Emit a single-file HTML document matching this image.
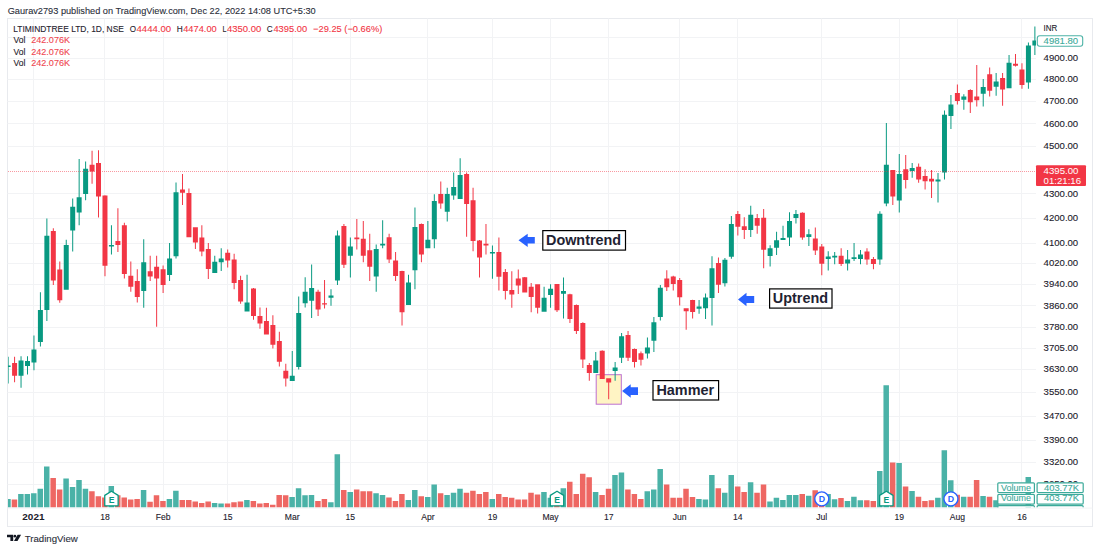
<!DOCTYPE html>
<html><head><meta charset="utf-8"><title>LTIMINDTREE chart</title>
<style>html,body{margin:0;padding:0;background:#fff;}body{width:1100px;height:550px;overflow:hidden;}svg{display:block;}</style>
</head><body>
<svg width="1100" height="550" viewBox="0 0 1100 550" font-family="'Liberation Sans', Arial, sans-serif">
<rect x="0" y="0" width="1100" height="550" fill="#ffffff"/>
<text x="7.70" y="14.00" font-size="9.5" fill="#2a2e39" stroke="#2a2e39" stroke-width="0.1" textLength="308.00" lengthAdjust="spacingAndGlyphs">Gaurav2793 published on TradingView.com, Dec 22, 2022 14:08 UTC+5:30</text>
<rect x="7.5" y="18.5" width="1085.0" height="508.0" fill="#ffffff" stroke="#E8EAEE" stroke-width="1"/>
<defs><clipPath id="pane"><rect x="8.0" y="19.0" width="1028.0" height="488.6"/></clipPath></defs>
<path d="M7.5 37.5H1036.0 M7.5 58.5H1036.0 M7.5 79.5H1036.0 M7.5 101.5H1036.0 M7.5 123.5H1036.0 M7.5 146.5H1036.0 M7.5 193.5H1036.0 M7.5 218.5H1036.0 M7.5 243.5H1036.0 M7.5 263.5H1036.0 M7.5 284.5H1036.0 M7.5 305.5H1036.0 M7.5 327.5H1036.0 M7.5 348.5H1036.0 M7.5 369.5H1036.0 M7.5 392.5H1036.0 M7.5 416.5H1036.0 M7.5 440.5H1036.0 M7.5 462.5H1036.0 M7.5 484.5H1036.0 M33.5 18.5V507.3 M104.5 18.5V507.3 M163.5 18.5V507.3 M227.5 18.5V507.3 M292.5 18.5V507.3 M350.5 18.5V507.3 M427.5 18.5V507.3 M492.5 18.5V507.3 M550.5 18.5V507.3 M608.5 18.5V507.3 M679.5 18.5V507.3 M737.5 18.5V507.3 M821.5 18.5V507.3 M899.5 18.5V507.3 M957.5 18.5V507.3 M1021.5 18.5V507.3" stroke="#F2F3F5" stroke-width="1" fill="none"/>
<path d="M7.5 508.1H1092.5" stroke="#F2F3F5" stroke-width="1"/>
<g clip-path="url(#pane)">
<path d="M5.22 498.90h5.5V507.6h-5.5ZM18.14 494.00h5.5V507.6h-5.5ZM24.59 494.00h5.5V507.6h-5.5ZM31.05 493.30h5.5V507.6h-5.5ZM37.51 488.70h5.5V507.6h-5.5ZM43.97 466.50h5.5V507.6h-5.5ZM63.34 478.50h5.5V507.6h-5.5ZM69.80 486.90h5.5V507.6h-5.5ZM76.25 480.00h5.5V507.6h-5.5ZM82.71 488.70h5.5V507.6h-5.5ZM108.54 486.10h5.5V507.6h-5.5ZM140.83 490.00h5.5V507.6h-5.5ZM166.66 499.10h5.5V507.6h-5.5ZM173.12 490.70h5.5V507.6h-5.5ZM211.86 502.90h5.5V507.6h-5.5ZM218.32 503.40h5.5V507.6h-5.5ZM244.15 500.10h5.5V507.6h-5.5ZM289.35 497.10h5.5V507.6h-5.5ZM295.81 488.20h5.5V507.6h-5.5ZM302.27 495.30h5.5V507.6h-5.5ZM308.73 495.00h5.5V507.6h-5.5ZM328.10 502.20h5.5V507.6h-5.5ZM334.56 454.30h5.5V507.6h-5.5ZM347.47 492.00h5.5V507.6h-5.5ZM373.30 493.30h5.5V507.6h-5.5ZM379.76 495.00h5.5V507.6h-5.5ZM405.59 500.10h5.5V507.6h-5.5ZM412.05 490.00h5.5V507.6h-5.5ZM424.96 497.10h5.5V507.6h-5.5ZM431.42 484.40h5.5V507.6h-5.5ZM444.34 495.00h5.5V507.6h-5.5ZM450.79 492.80h5.5V507.6h-5.5ZM457.25 488.70h5.5V507.6h-5.5ZM489.54 498.90h5.5V507.6h-5.5ZM541.20 492.00h5.5V507.6h-5.5ZM547.66 497.80h5.5V507.6h-5.5ZM560.57 488.20h5.5V507.6h-5.5ZM592.86 492.00h5.5V507.6h-5.5ZM612.23 474.90h5.5V507.6h-5.5ZM618.69 472.40h5.5V507.6h-5.5ZM644.52 491.20h5.5V507.6h-5.5ZM650.98 489.50h5.5V507.6h-5.5ZM657.44 469.10h5.5V507.6h-5.5ZM696.18 498.90h5.5V507.6h-5.5ZM702.64 499.60h5.5V507.6h-5.5ZM709.10 474.90h5.5V507.6h-5.5ZM722.01 492.80h5.5V507.6h-5.5ZM728.47 474.90h5.5V507.6h-5.5ZM747.84 482.30h5.5V507.6h-5.5ZM767.22 501.40h5.5V507.6h-5.5ZM773.67 497.80h5.5V507.6h-5.5ZM780.13 500.10h5.5V507.6h-5.5ZM786.59 495.00h5.5V507.6h-5.5ZM793.05 495.00h5.5V507.6h-5.5ZM805.96 495.80h5.5V507.6h-5.5ZM825.33 494.00h5.5V507.6h-5.5ZM831.79 499.30h5.5V507.6h-5.5ZM844.71 501.10h5.5V507.6h-5.5ZM851.16 496.80h5.5V507.6h-5.5ZM857.62 500.30h5.5V507.6h-5.5ZM876.99 471.10h5.5V507.6h-5.5ZM883.45 385.30h5.5V507.6h-5.5ZM896.37 462.90h5.5V507.6h-5.5ZM909.28 490.90h5.5V507.6h-5.5ZM935.11 497.80h5.5V507.6h-5.5ZM941.57 450.20h5.5V507.6h-5.5ZM948.03 480.20h5.5V507.6h-5.5ZM960.94 496.80h5.5V507.6h-5.5ZM980.32 496.00h5.5V507.6h-5.5ZM993.23 500.30h5.5V507.6h-5.5ZM1025.52 477.10h5.5V507.6h-5.5Z" fill="#4AB2A7"/>
<path d="M11.68 499.60h5.5V507.6h-5.5ZM50.42 478.00h5.5V507.6h-5.5ZM56.88 489.50h5.5V507.6h-5.5ZM89.17 491.20h5.5V507.6h-5.5ZM95.63 496.30h5.5V507.6h-5.5ZM102.08 497.60h5.5V507.6h-5.5ZM115.00 495.30h5.5V507.6h-5.5ZM121.46 497.60h5.5V507.6h-5.5ZM127.91 499.60h5.5V507.6h-5.5ZM134.37 498.90h5.5V507.6h-5.5ZM147.29 501.70h5.5V507.6h-5.5ZM153.74 495.30h5.5V507.6h-5.5ZM160.20 500.90h5.5V507.6h-5.5ZM179.57 500.10h5.5V507.6h-5.5ZM186.03 500.10h5.5V507.6h-5.5ZM192.49 501.40h5.5V507.6h-5.5ZM198.95 502.90h5.5V507.6h-5.5ZM205.41 501.40h5.5V507.6h-5.5ZM224.78 503.40h5.5V507.6h-5.5ZM231.24 502.20h5.5V507.6h-5.5ZM237.69 501.40h5.5V507.6h-5.5ZM250.61 500.90h5.5V507.6h-5.5ZM257.07 503.40h5.5V507.6h-5.5ZM263.52 502.90h5.5V507.6h-5.5ZM269.98 504.70h5.5V507.6h-5.5ZM276.44 495.00h5.5V507.6h-5.5ZM282.90 495.30h5.5V507.6h-5.5ZM315.18 500.90h5.5V507.6h-5.5ZM321.64 498.90h5.5V507.6h-5.5ZM341.01 490.00h5.5V507.6h-5.5ZM353.93 489.50h5.5V507.6h-5.5ZM360.39 491.20h5.5V507.6h-5.5ZM366.84 491.20h5.5V507.6h-5.5ZM386.22 497.60h5.5V507.6h-5.5ZM392.68 500.90h5.5V507.6h-5.5ZM399.13 494.00h5.5V507.6h-5.5ZM418.51 496.30h5.5V507.6h-5.5ZM437.88 493.30h5.5V507.6h-5.5ZM463.71 492.80h5.5V507.6h-5.5ZM470.17 490.70h5.5V507.6h-5.5ZM476.62 494.00h5.5V507.6h-5.5ZM483.08 492.00h5.5V507.6h-5.5ZM496.00 494.00h5.5V507.6h-5.5ZM502.45 497.10h5.5V507.6h-5.5ZM508.91 497.80h5.5V507.6h-5.5ZM515.37 499.60h5.5V507.6h-5.5ZM521.83 499.60h5.5V507.6h-5.5ZM528.28 492.80h5.5V507.6h-5.5ZM534.74 494.50h5.5V507.6h-5.5ZM554.11 494.00h5.5V507.6h-5.5ZM567.03 481.80h5.5V507.6h-5.5ZM573.49 494.00h5.5V507.6h-5.5ZM579.95 473.70h5.5V507.6h-5.5ZM586.40 477.20h5.5V507.6h-5.5ZM599.32 495.00h5.5V507.6h-5.5ZM605.78 488.70h5.5V507.6h-5.5ZM625.15 489.50h5.5V507.6h-5.5ZM631.61 494.00h5.5V507.6h-5.5ZM638.06 498.90h5.5V507.6h-5.5ZM663.89 484.40h5.5V507.6h-5.5ZM670.35 497.80h5.5V507.6h-5.5ZM676.81 497.80h5.5V507.6h-5.5ZM683.27 488.70h5.5V507.6h-5.5ZM689.72 497.10h5.5V507.6h-5.5ZM715.55 488.20h5.5V507.6h-5.5ZM734.93 486.40h5.5V507.6h-5.5ZM741.38 492.00h5.5V507.6h-5.5ZM754.30 492.80h5.5V507.6h-5.5ZM760.76 484.40h5.5V507.6h-5.5ZM799.50 494.00h5.5V507.6h-5.5ZM812.42 490.20h5.5V507.6h-5.5ZM818.88 492.00h5.5V507.6h-5.5ZM838.25 498.00h5.5V507.6h-5.5ZM864.08 500.30h5.5V507.6h-5.5ZM870.54 501.10h5.5V507.6h-5.5ZM889.91 462.40h5.5V507.6h-5.5ZM902.82 486.60h5.5V507.6h-5.5ZM915.74 496.80h5.5V507.6h-5.5ZM922.20 501.10h5.5V507.6h-5.5ZM928.65 500.30h5.5V507.6h-5.5ZM954.48 494.70h5.5V507.6h-5.5ZM967.40 496.80h5.5V507.6h-5.5ZM973.86 480.00h5.5V507.6h-5.5ZM986.77 496.80h5.5V507.6h-5.5Z" fill="#EE6763"/>
<rect x="596.2" y="374.7" width="25.1" height="29.5" fill="#FFF4C4" stroke="#BC6FD0" stroke-width="1"/>
<path d="M5.62 365.60h5V366.90h-5ZM7.62 356.70h1V365.60h-1ZM7.62 366.90h1V383.40h-1ZM18.54 360.50h5V375.80h-5ZM20.54 356.20h1V360.50h-1ZM20.54 375.80h1V387.80h-1ZM24.99 361.00h5V366.10h-5ZM26.99 356.20h1V361.00h-1ZM26.99 366.10h1V374.50h-1ZM31.45 349.60h5V362.60h-5ZM33.45 335.60h1V349.60h-1ZM33.45 362.60h1V370.20h-1ZM37.91 310.10h5V342.00h-5ZM39.91 292.30h1V310.10h-1ZM39.91 342.00h1V346.50h-1ZM44.37 235.70h5V310.10h-5ZM46.37 218.40h1V235.70h-1ZM46.37 310.10h1V321.10h-1ZM63.74 244.90h5V289.80h-5ZM65.74 239.80h1V244.90h-1ZM70.20 206.70h5V230.40h-5ZM72.20 198.50h1V206.70h-1ZM72.20 230.40h1V251.50h-1ZM76.65 197.30h5V212.50h-5ZM78.65 159.10h1V197.30h-1ZM78.65 212.50h1V225.30h-1ZM83.11 168.80h5V194.00h-5ZM85.11 161.40h1V168.80h-1ZM85.11 194.00h1V200.30h-1ZM108.94 244.90h5V246.40h-5ZM110.94 225.30h1V244.90h-1ZM110.94 246.40h1V254.50h-1ZM141.23 262.20h5V291.00h-5ZM143.23 239.30h1V262.20h-1ZM143.23 291.00h1V307.80h-1ZM167.06 258.40h5V274.90h-5ZM169.06 243.00h1V258.40h-1ZM169.06 274.90h1V281.10h-1ZM173.52 192.20h5V256.30h-5ZM175.52 182.50h1V192.20h-1ZM175.52 256.30h1V258.40h-1ZM212.26 261.70h5V273.00h-5ZM214.26 255.80h1V261.70h-1ZM218.72 258.40h5V262.20h-5ZM220.72 248.20h1V258.40h-1ZM220.72 262.20h1V271.00h-1ZM244.55 302.50h5V311.40h-5ZM246.55 274.80h1V302.50h-1ZM289.75 375.80h5V380.90h-5ZM291.75 350.90h1V375.80h-1ZM296.21 312.90h5V366.90h-5ZM298.21 296.40h1V312.90h-1ZM298.21 366.90h1V369.40h-1ZM302.67 291.80h5V303.30h-5ZM304.67 277.30h1V291.80h-1ZM304.67 303.30h1V307.60h-1ZM309.13 288.00h5V300.70h-5ZM311.13 264.60h1V288.00h-1ZM311.13 300.70h1V318.00h-1ZM328.50 295.60h5V297.70h-5ZM330.50 289.30h1V295.60h-1ZM330.50 297.70h1V305.80h-1ZM334.96 235.40h5V280.40h-5ZM336.96 230.40h1V235.40h-1ZM336.96 280.40h1V284.90h-1ZM347.87 246.40h5V255.80h-5ZM349.87 237.50h1V246.40h-1ZM349.87 255.80h1V277.40h-1ZM373.70 248.90h5V276.50h-5ZM375.70 244.40h1V248.90h-1ZM375.70 276.50h1V291.80h-1ZM380.16 243.80h5V245.60h-5ZM382.16 220.20h1V243.80h-1ZM382.16 245.60h1V248.20h-1ZM405.99 282.40h5V305.00h-5ZM407.99 274.80h1V282.40h-1ZM412.45 227.00h5V270.30h-5ZM414.45 207.40h1V227.00h-1ZM414.45 270.30h1V289.30h-1ZM425.36 239.80h5V248.20h-5ZM427.36 220.90h1V239.80h-1ZM431.82 201.10h5V239.30h-5ZM433.82 194.20h1V201.10h-1ZM433.82 239.30h1V248.20h-1ZM444.74 194.00h5V211.80h-5ZM446.74 187.80h1V194.00h-1ZM446.74 211.80h1V221.40h-1ZM451.19 187.10h5V195.50h-5ZM453.19 172.60h1V187.10h-1ZM453.19 195.50h1V199.80h-1ZM457.65 175.10h5V199.00h-5ZM459.65 158.30h1V175.10h-1ZM489.94 252.00h5V253.50h-5ZM491.94 245.60h1V252.00h-1ZM491.94 253.50h1V278.70h-1ZM541.60 297.70h5V311.70h-5ZM543.60 286.70h1V297.70h-1ZM548.06 288.80h5V294.90h-5ZM550.06 284.20h1V288.80h-1ZM550.06 294.90h1V307.80h-1ZM560.97 291.10h5V293.70h-5ZM562.97 277.60h1V291.10h-1ZM562.97 293.70h1V318.40h-1ZM593.26 360.40h5V373.10h-5ZM595.26 352.00h1V360.40h-1ZM612.63 367.50h5V371.00h-5ZM614.63 362.10h1V367.50h-1ZM614.63 371.00h1V380.70h-1ZM619.09 336.20h5V357.80h-5ZM621.09 333.10h1V336.20h-1ZM621.09 357.80h1V362.90h-1ZM644.92 347.60h5V353.50h-5ZM646.92 337.40h1V347.60h-1ZM646.92 353.50h1V358.60h-1ZM651.38 322.20h5V340.80h-5ZM653.38 317.10h1V322.20h-1ZM653.38 340.80h1V352.00h-1ZM657.84 287.80h5V317.10h-5ZM659.84 285.00h1V287.80h-1ZM659.84 317.10h1V320.40h-1ZM696.58 306.40h5V308.70h-5ZM698.58 300.00h1V306.40h-1ZM698.58 308.70h1V313.80h-1ZM703.04 297.50h5V308.20h-5ZM705.04 293.40h1V297.50h-1ZM705.04 308.20h1V318.90h-1ZM709.50 268.20h5V298.00h-5ZM711.50 256.20h1V268.20h-1ZM711.50 298.00h1V325.50h-1ZM722.41 259.80h5V283.20h-5ZM724.41 258.00h1V259.80h-1ZM724.41 283.20h1V286.50h-1ZM728.87 224.10h5V256.70h-5ZM730.87 216.00h1V224.10h-1ZM730.87 256.70h1V258.80h-1ZM748.24 214.70h5V230.00h-5ZM750.24 205.80h1V214.70h-1ZM750.24 230.00h1V236.90h-1ZM767.62 248.30h5V256.00h-5ZM769.62 245.30h1V248.30h-1ZM769.62 256.00h1V266.40h-1ZM774.07 240.20h5V247.80h-5ZM776.07 231.80h1V240.20h-1ZM776.07 247.80h1V254.90h-1ZM780.53 238.10h5V239.90h-5ZM782.53 225.70h1V238.10h-1ZM786.99 221.10h5V237.60h-5ZM788.99 212.20h1V221.10h-1ZM788.99 237.60h1V246.00h-1ZM793.45 214.00h5V218.00h-5ZM795.45 210.10h1V214.00h-1ZM795.45 218.00h1V223.60h-1ZM806.36 234.30h5V237.10h-5ZM808.36 229.20h1V234.30h-1ZM808.36 237.10h1V246.00h-1ZM825.73 256.60h5V259.10h-5ZM827.73 251.20h1V256.60h-1ZM827.73 259.10h1V270.60h-1ZM832.19 255.80h5V257.60h-5ZM834.19 252.00h1V255.80h-1ZM834.19 257.60h1V264.20h-1ZM845.11 259.60h5V263.40h-5ZM847.11 250.00h1V259.60h-1ZM847.11 263.40h1V270.60h-1ZM851.56 257.30h5V258.90h-5ZM853.56 243.10h1V257.30h-1ZM853.56 258.90h1V260.90h-1ZM858.02 254.50h5V258.90h-5ZM860.02 250.00h1V254.50h-1ZM860.02 258.90h1V264.20h-1ZM877.39 213.80h5V259.60h-5ZM879.39 211.30h1V213.80h-1ZM879.39 259.60h1V264.70h-1ZM883.85 164.70h5V203.60h-5ZM885.85 123.10h1V164.70h-1ZM885.85 203.60h1V206.20h-1ZM896.77 173.90h5V200.60h-5ZM898.77 154.00h1V173.90h-1ZM898.77 200.60h1V212.50h-1ZM909.68 168.00h5V171.00h-5ZM911.68 162.90h1V168.00h-1ZM911.68 171.00h1V177.70h-1ZM935.51 179.50h5V181.50h-5ZM937.51 173.10h1V179.50h-1ZM937.51 181.50h1V202.40h-1ZM941.97 114.70h5V172.60h-5ZM943.97 110.40h1V114.70h-1ZM943.97 172.60h1V179.50h-1ZM948.43 104.50h5V116.00h-5ZM950.43 95.10h1V104.50h-1ZM950.43 116.00h1V128.90h-1ZM961.34 96.40h5V99.70h-5ZM963.34 94.30h1V96.40h-1ZM963.34 99.70h1V109.80h-1ZM980.72 86.90h5V93.80h-5ZM982.72 79.00h1V86.90h-1ZM982.72 93.80h1V106.50h-1ZM993.63 81.60h5V86.70h-5ZM995.63 72.90h1V81.60h-1ZM995.63 86.70h1V95.80h-1ZM1006.55 62.80h5V88.20h-5ZM1008.55 55.10h1V62.80h-1ZM1025.92 45.50h5V82.40h-5ZM1027.92 42.40h1V45.50h-1ZM1027.92 82.40h1V88.70h-1ZM1032.38 40.40h5V45.50h-5ZM1034.38 26.40h1V40.40h-1ZM1034.38 45.50h1V55.10h-1Z" fill="#089981"/>
<path d="M12.08 363.10h5V375.80h-5ZM14.08 356.70h1V363.10h-1ZM14.08 375.80h1V382.20h-1ZM50.82 230.90h5V280.40h-5ZM52.82 228.30h1V230.90h-1ZM52.82 280.40h1V284.90h-1ZM57.28 269.40h5V300.20h-5ZM59.28 261.40h1V269.40h-1ZM59.28 300.20h1V302.80h-1ZM89.57 164.70h5V171.60h-5ZM91.57 150.70h1V164.70h-1ZM91.57 171.60h1V183.80h-1ZM96.03 162.90h5V196.50h-5ZM98.03 150.20h1V162.90h-1ZM98.03 196.50h1V217.60h-1ZM102.48 195.50h5V265.80h-5ZM104.48 195.20h1V195.50h-1ZM104.48 265.80h1V276.30h-1ZM115.40 241.00h5V245.10h-5ZM117.40 208.20h1V241.00h-1ZM117.40 245.10h1V252.00h-1ZM121.86 225.30h5V274.00h-5ZM123.86 222.70h1V225.30h-1ZM123.86 274.00h1V278.50h-1ZM128.31 275.80h5V286.70h-5ZM130.31 261.40h1V275.80h-1ZM130.31 286.70h1V291.80h-1ZM134.77 280.90h5V296.90h-5ZM136.77 269.20h1V280.90h-1ZM136.77 296.90h1V302.50h-1ZM147.69 271.20h5V276.40h-5ZM149.69 255.80h1V271.20h-1ZM149.69 276.40h1V280.90h-1ZM154.14 266.70h5V278.50h-5ZM156.14 255.80h1V266.70h-1ZM156.14 278.50h1V326.70h-1ZM160.60 269.20h5V284.90h-5ZM162.60 265.50h1V269.20h-1ZM162.60 284.90h1V293.10h-1ZM179.97 189.60h5V192.70h-5ZM181.97 173.90h1V189.60h-1ZM181.97 192.70h1V204.90h-1ZM186.43 193.00h5V237.20h-5ZM188.43 188.40h1V193.00h-1ZM192.89 227.30h5V242.60h-5ZM194.89 242.60h1V248.90h-1ZM199.35 237.50h5V251.50h-5ZM201.35 225.30h1V237.50h-1ZM201.35 251.50h1V256.30h-1ZM205.81 248.90h5V269.00h-5ZM207.81 243.00h1V248.90h-1ZM207.81 269.00h1V279.00h-1ZM225.18 252.80h5V260.40h-5ZM227.18 249.40h1V252.80h-1ZM227.18 260.40h1V267.50h-1ZM231.64 259.60h5V282.90h-5ZM233.64 253.80h1V259.60h-1ZM233.64 282.90h1V289.30h-1ZM238.09 279.90h5V301.50h-5ZM240.09 275.80h1V279.90h-1ZM240.09 301.50h1V303.80h-1ZM251.01 288.50h5V316.00h-5ZM253.01 288.00h1V288.50h-1ZM253.01 316.00h1V319.80h-1ZM257.47 316.00h5V323.60h-5ZM259.47 307.60h1V316.00h-1ZM259.47 323.60h1V328.70h-1ZM263.92 321.10h5V334.60h-5ZM265.92 307.80h1V321.10h-1ZM270.38 324.90h5V344.80h-5ZM272.38 315.20h1V324.90h-1ZM272.38 344.80h1V348.60h-1ZM276.84 340.90h5V361.80h-5ZM278.84 331.80h1V340.90h-1ZM278.84 361.80h1V366.40h-1ZM283.30 370.70h5V378.40h-5ZM285.30 363.80h1V370.70h-1ZM285.30 378.40h1V386.50h-1ZM315.58 291.80h5V309.60h-5ZM317.58 289.80h1V291.80h-1ZM317.58 309.60h1V316.00h-1ZM322.04 303.30h5V304.50h-5ZM324.04 279.90h1V303.30h-1ZM324.04 304.50h1V308.40h-1ZM341.41 226.00h5V264.70h-5ZM343.41 224.00h1V226.00h-1ZM343.41 264.70h1V268.00h-1ZM354.33 237.50h5V239.30h-5ZM356.33 218.90h1V237.50h-1ZM356.33 239.30h1V249.40h-1ZM360.79 238.80h5V255.80h-5ZM362.79 220.90h1V238.80h-1ZM362.79 255.80h1V262.20h-1ZM367.24 250.20h5V266.70h-5ZM369.24 233.70h1V250.20h-1ZM369.24 266.70h1V281.10h-1ZM386.62 237.20h5V259.60h-5ZM388.62 233.70h1V237.20h-1ZM388.62 259.60h1V262.90h-1ZM393.08 260.60h5V276.00h-5ZM395.08 252.00h1V260.60h-1ZM395.08 276.00h1V281.10h-1ZM399.53 271.00h5V312.20h-5ZM401.53 270.70h1V271.00h-1ZM401.53 312.20h1V325.40h-1ZM418.91 224.00h5V254.50h-5ZM420.91 223.50h1V224.00h-1ZM420.91 254.50h1V262.20h-1ZM438.28 194.00h5V203.60h-5ZM440.28 181.50h1V194.00h-1ZM440.28 203.60h1V208.70h-1ZM464.11 173.90h5V204.10h-5ZM466.11 172.60h1V173.90h-1ZM466.11 204.10h1V236.70h-1ZM470.57 200.30h5V241.00h-5ZM472.57 187.80h1V200.30h-1ZM472.57 241.00h1V251.20h-1ZM477.02 240.50h5V257.60h-5ZM479.02 240.00h1V240.50h-1ZM479.02 257.60h1V277.60h-1ZM483.48 243.80h5V245.60h-5ZM485.48 224.00h1V243.80h-1ZM485.48 245.60h1V254.50h-1ZM496.40 252.00h5V276.70h-5ZM498.40 237.50h1V252.00h-1ZM498.40 276.70h1V290.50h-1ZM502.85 272.00h5V291.00h-5ZM504.85 269.10h1V272.00h-1ZM504.85 291.00h1V299.50h-1ZM509.31 290.00h5V294.40h-5ZM511.31 271.30h1V290.00h-1ZM511.31 294.40h1V307.80h-1ZM515.77 278.60h5V285.50h-5ZM517.77 269.60h1V278.60h-1ZM517.77 285.50h1V293.90h-1ZM522.23 277.30h5V292.60h-5ZM524.23 277.00h1V277.30h-1ZM528.68 286.70h5V296.90h-5ZM530.68 282.90h1V286.70h-1ZM530.68 296.90h1V312.20h-1ZM535.14 284.20h5V307.80h-5ZM537.14 307.80h1V313.40h-1ZM554.51 284.00h5V310.20h-5ZM556.51 310.20h1V312.00h-1ZM567.43 294.20h5V318.90h-5ZM569.43 293.70h1V294.20h-1ZM569.43 318.90h1V322.90h-1ZM573.89 304.90h5V331.10h-5ZM575.89 304.40h1V304.90h-1ZM575.89 331.10h1V334.10h-1ZM580.35 322.90h5V359.60h-5ZM582.35 322.20h1V322.90h-1ZM582.35 359.60h1V368.00h-1ZM586.80 364.90h5V373.10h-5ZM588.80 362.90h1V364.90h-1ZM588.80 373.10h1V380.70h-1ZM599.72 350.70h5V378.90h-5ZM601.72 350.20h1V350.70h-1ZM606.18 378.20h5V382.50h-5ZM608.18 382.50h1V399.30h-1ZM625.55 334.90h5V357.80h-5ZM627.55 331.10h1V334.90h-1ZM627.55 357.80h1V361.10h-1ZM632.01 348.90h5V362.10h-5ZM634.01 348.40h1V348.90h-1ZM634.01 362.10h1V367.50h-1ZM638.46 353.20h5V359.80h-5ZM640.46 351.40h1V353.20h-1ZM640.46 359.80h1V365.40h-1ZM664.29 278.60h5V287.30h-5ZM666.29 270.20h1V278.60h-1ZM666.29 287.30h1V291.10h-1ZM670.75 276.60h5V284.00h-5ZM672.75 275.80h1V276.60h-1ZM672.75 284.00h1V290.40h-1ZM677.21 280.10h5V297.20h-5ZM679.21 278.00h1V280.10h-1ZM679.21 297.20h1V305.60h-1ZM683.67 308.20h5V311.20h-5ZM685.67 311.20h1V329.80h-1ZM690.12 300.00h5V312.00h-5ZM692.12 299.80h1V300.00h-1ZM692.12 312.00h1V318.40h-1ZM715.95 263.10h5V284.70h-5ZM717.95 257.50h1V263.10h-1ZM717.95 284.70h1V293.00h-1ZM735.33 214.00h5V226.70h-5ZM737.33 210.90h1V214.00h-1ZM737.33 226.70h1V235.60h-1ZM741.78 226.20h5V230.00h-5ZM743.78 217.30h1V226.20h-1ZM743.78 230.00h1V238.90h-1ZM754.70 218.00h5V225.70h-5ZM756.70 214.00h1V218.00h-1ZM756.70 225.70h1V233.80h-1ZM761.16 217.80h5V249.80h-5ZM763.16 208.90h1V217.80h-1ZM763.16 249.80h1V268.20h-1ZM799.90 212.70h5V237.60h-5ZM801.90 212.20h1V212.70h-1ZM801.90 237.60h1V239.70h-1ZM812.82 238.40h5V250.40h-5ZM814.82 227.40h1V238.40h-1ZM814.82 250.40h1V254.90h-1ZM819.28 246.50h5V263.80h-5ZM821.28 244.00h1V246.50h-1ZM821.28 263.80h1V275.30h-1ZM838.65 255.80h5V264.00h-5ZM840.65 248.20h1V255.80h-1ZM840.65 264.00h1V266.00h-1ZM864.48 251.50h5V259.60h-5ZM866.48 248.20h1V251.50h-1ZM866.48 259.60h1V264.70h-1ZM870.94 258.90h5V264.00h-5ZM872.94 257.10h1V258.90h-1ZM872.94 264.00h1V269.30h-1ZM890.31 170.00h5V196.50h-5ZM892.31 196.50h1V204.90h-1ZM903.22 169.30h5V180.00h-5ZM905.22 155.00h1V169.30h-1ZM905.22 180.00h1V188.40h-1ZM916.14 166.70h5V179.50h-5ZM918.14 163.40h1V166.70h-1ZM918.14 179.50h1V182.80h-1ZM922.60 176.10h5V181.20h-5ZM924.60 169.30h1V176.10h-1ZM924.60 181.20h1V189.60h-1ZM929.05 178.70h5V181.50h-5ZM931.05 170.00h1V178.70h-1ZM931.05 181.50h1V198.00h-1ZM954.88 93.00h5V100.90h-5ZM956.88 84.40h1V93.00h-1ZM956.88 100.90h1V104.50h-1ZM967.80 90.00h5V102.20h-5ZM969.80 89.20h1V90.00h-1ZM969.80 102.20h1V112.90h-1ZM974.26 96.40h5V100.20h-5ZM976.26 65.00h1V96.40h-1ZM976.26 100.20h1V106.50h-1ZM987.17 74.20h5V90.80h-5ZM989.17 67.60h1V74.20h-1ZM989.17 90.80h1V96.40h-1ZM1000.09 78.00h5V89.50h-5ZM1002.09 72.90h1V78.00h-1ZM1002.09 89.50h1V105.80h-1ZM1013.00 63.80h5V65.80h-5ZM1015.00 53.90h1V63.80h-1ZM1015.00 65.80h1V66.60h-1ZM1019.46 69.60h5V84.90h-5ZM1021.46 63.30h1V69.60h-1ZM1021.46 84.90h1V88.70h-1Z" fill="#F23645"/>
<path d="M8 171.5H1035" stroke="#F23645" stroke-width="1" stroke-dasharray="1 1" opacity="0.5"/>
</g>
<polygon points="518.50,240.30 527.70,233.70 527.70,237.05 534.80,237.05 534.80,243.55 527.70,243.55 527.70,246.90" fill="#2962FF"/>
<polygon points="738.00,299.50 746.50,292.80 746.50,296.00 754.20,296.00 754.20,303.00 746.50,303.00 746.50,306.20" fill="#2962FF"/>
<polygon points="622.10,391.10 630.70,384.35 630.70,387.30 638.00,387.30 638.00,394.90 630.70,394.90 630.70,397.85" fill="#2962FF"/>
<rect x="542.80" y="230.60" width="82.70" height="19.50" fill="#ffffff" stroke="#000000" stroke-width="1.2"/>
<text x="546.00" y="245.10" font-size="13.9" fill="#1f2333" font-weight="bold" textLength="75.10" lengthAdjust="spacingAndGlyphs">Downtrend</text>
<rect x="769.60" y="288.90" width="62.40" height="19.20" fill="#ffffff" stroke="#000000" stroke-width="1.2"/>
<text x="772.80" y="302.70" font-size="13.9" fill="#1f2333" font-weight="bold" textLength="55.30" lengthAdjust="spacingAndGlyphs">Uptrend</text>
<rect x="653.00" y="380.60" width="65.60" height="19.40" fill="#ffffff" stroke="#000000" stroke-width="1.2"/>
<text x="656.40" y="394.90" font-size="13.9" fill="#1f2333" font-weight="bold" textLength="57.70" lengthAdjust="spacingAndGlyphs">Hammer</text>
<polygon points="111.44,491.20 118.14,495.40 118.14,505.80 104.74,505.80 104.74,495.40" fill="#ffffff" stroke="#089981" stroke-width="1.3" stroke-linejoin="round"/>
<text x="111.54" y="503.10" font-size="8.6" fill="#089981" font-weight="bold" text-anchor="middle">E</text>
<polygon points="557.01,491.20 563.71,495.40 563.71,505.80 550.31,505.80 550.31,495.40" fill="#ffffff" stroke="#089981" stroke-width="1.3" stroke-linejoin="round"/>
<text x="557.11" y="503.10" font-size="8.6" fill="#089981" font-weight="bold" text-anchor="middle">E</text>
<polygon points="886.35,491.20 893.05,495.40 893.05,505.80 879.65,505.80 879.65,495.40" fill="#ffffff" stroke="#089981" stroke-width="1.3" stroke-linejoin="round"/>
<text x="886.45" y="503.10" font-size="8.6" fill="#089981" font-weight="bold" text-anchor="middle">E</text>
<circle cx="821.78" cy="498.9" r="7.0" fill="#ffffff" stroke="#2962FF" stroke-width="1.4"/>
<text x="821.88" y="502.00" font-size="8.8" fill="#2962FF" font-weight="bold" text-anchor="middle">D</text>
<circle cx="950.93" cy="498.9" r="7.0" fill="#ffffff" stroke="#2962FF" stroke-width="1.4"/>
<text x="951.03" y="502.00" font-size="8.8" fill="#2962FF" font-weight="bold" text-anchor="middle">D</text>
<text x="13.30" y="31.80" font-size="9.0" fill="#1c202b" stroke="#1c202b" stroke-width="0.1" textLength="110.60" lengthAdjust="spacingAndGlyphs">LTIMINDTREE LTD, 1D, NSE</text>
<text x="129.70" y="31.80" font-size="9.0" fill="#1c202b" stroke="#1c202b" stroke-width="0.1" textLength="6.30" lengthAdjust="spacingAndGlyphs">O</text>
<text x="136.50" y="31.80" font-size="9.0" fill="#F23645" stroke="#F23645" stroke-width="0.1" textLength="34.70" lengthAdjust="spacingAndGlyphs">4444.00</text>
<text x="176.80" y="31.80" font-size="9.0" fill="#1c202b" stroke="#1c202b" stroke-width="0.1" textLength="6.00" lengthAdjust="spacingAndGlyphs">H</text>
<text x="183.20" y="31.80" font-size="9.0" fill="#F23645" stroke="#F23645" stroke-width="0.1" textLength="33.60" lengthAdjust="spacingAndGlyphs">4474.00</text>
<text x="222.50" y="31.80" font-size="9.0" fill="#1c202b" stroke="#1c202b" stroke-width="0.1" textLength="4.00" lengthAdjust="spacingAndGlyphs">L</text>
<text x="226.90" y="31.80" font-size="9.0" fill="#F23645" stroke="#F23645" stroke-width="0.1" textLength="34.30" lengthAdjust="spacingAndGlyphs">4350.00</text>
<text x="266.80" y="31.80" font-size="9.0" fill="#1c202b" stroke="#1c202b" stroke-width="0.1" textLength="5.90" lengthAdjust="spacingAndGlyphs">C</text>
<text x="273.40" y="31.80" font-size="9.0" fill="#F23645" stroke="#F23645" stroke-width="0.1" textLength="33.80" lengthAdjust="spacingAndGlyphs">4395.00</text>
<text x="313.10" y="31.80" font-size="9.0" fill="#F23645" stroke="#F23645" stroke-width="0.1" textLength="69.20" lengthAdjust="spacingAndGlyphs">−29.25 (−0.66%)</text>
<text x="13.60" y="43.10" font-size="8.6" fill="#1c202b" stroke="#1c202b" stroke-width="0.1" textLength="11.80" lengthAdjust="spacingAndGlyphs">Vol</text>
<text x="31.20" y="43.10" font-size="8.6" fill="#F0464F" stroke="#F0464F" stroke-width="0.1" textLength="38.90" lengthAdjust="spacingAndGlyphs">242.076K</text>
<text x="13.60" y="54.60" font-size="8.6" fill="#1c202b" stroke="#1c202b" stroke-width="0.1" textLength="11.80" lengthAdjust="spacingAndGlyphs">Vol</text>
<text x="31.20" y="54.60" font-size="8.6" fill="#F0464F" stroke="#F0464F" stroke-width="0.1" textLength="38.90" lengthAdjust="spacingAndGlyphs">242.076K</text>
<text x="13.60" y="66.10" font-size="8.6" fill="#1c202b" stroke="#1c202b" stroke-width="0.1" textLength="11.80" lengthAdjust="spacingAndGlyphs">Vol</text>
<text x="31.20" y="66.10" font-size="8.6" fill="#F0464F" stroke="#F0464F" stroke-width="0.1" textLength="38.90" lengthAdjust="spacingAndGlyphs">242.076K</text>
<text x="1043.60" y="61.06" font-size="8.8" fill="#1c202b" stroke="#1c202b" stroke-width="0.1" textLength="34.60" lengthAdjust="spacingAndGlyphs">4900.00</text>
<text x="1043.60" y="82.45" font-size="8.8" fill="#1c202b" stroke="#1c202b" stroke-width="0.1" textLength="34.60" lengthAdjust="spacingAndGlyphs">4800.00</text>
<text x="1043.60" y="104.29" font-size="8.8" fill="#1c202b" stroke="#1c202b" stroke-width="0.1" textLength="34.60" lengthAdjust="spacingAndGlyphs">4700.00</text>
<text x="1043.60" y="126.60" font-size="8.8" fill="#1c202b" stroke="#1c202b" stroke-width="0.1" textLength="34.60" lengthAdjust="spacingAndGlyphs">4600.00</text>
<text x="1043.60" y="149.41" font-size="8.8" fill="#1c202b" stroke="#1c202b" stroke-width="0.1" textLength="34.60" lengthAdjust="spacingAndGlyphs">4500.00</text>
<text x="1043.60" y="196.57" font-size="8.8" fill="#1c202b" stroke="#1c202b" stroke-width="0.1" textLength="34.60" lengthAdjust="spacingAndGlyphs">4300.00</text>
<text x="1043.60" y="220.98" font-size="8.8" fill="#1c202b" stroke="#1c202b" stroke-width="0.1" textLength="34.60" lengthAdjust="spacingAndGlyphs">4200.00</text>
<text x="1043.60" y="245.98" font-size="8.8" fill="#1c202b" stroke="#1c202b" stroke-width="0.1" textLength="34.60" lengthAdjust="spacingAndGlyphs">4100.00</text>
<text x="1043.60" y="266.42" font-size="8.8" fill="#1c202b" stroke="#1c202b" stroke-width="0.1" textLength="34.60" lengthAdjust="spacingAndGlyphs">4020.00</text>
<text x="1043.60" y="287.28" font-size="8.8" fill="#1c202b" stroke="#1c202b" stroke-width="0.1" textLength="34.60" lengthAdjust="spacingAndGlyphs">3940.00</text>
<text x="1043.60" y="308.56" font-size="8.8" fill="#1c202b" stroke="#1c202b" stroke-width="0.1" textLength="34.60" lengthAdjust="spacingAndGlyphs">3860.00</text>
<text x="1043.60" y="330.29" font-size="8.8" fill="#1c202b" stroke="#1c202b" stroke-width="0.1" textLength="34.60" lengthAdjust="spacingAndGlyphs">3780.00</text>
<text x="1043.60" y="351.08" font-size="8.8" fill="#1c202b" stroke="#1c202b" stroke-width="0.1" textLength="34.60" lengthAdjust="spacingAndGlyphs">3705.00</text>
<text x="1043.60" y="372.29" font-size="8.8" fill="#1c202b" stroke="#1c202b" stroke-width="0.1" textLength="34.60" lengthAdjust="spacingAndGlyphs">3630.00</text>
<text x="1043.60" y="395.41" font-size="8.8" fill="#1c202b" stroke="#1c202b" stroke-width="0.1" textLength="34.60" lengthAdjust="spacingAndGlyphs">3550.00</text>
<text x="1043.60" y="419.06" font-size="8.8" fill="#1c202b" stroke="#1c202b" stroke-width="0.1" textLength="34.60" lengthAdjust="spacingAndGlyphs">3470.00</text>
<text x="1043.60" y="443.26" font-size="8.8" fill="#1c202b" stroke="#1c202b" stroke-width="0.1" textLength="34.60" lengthAdjust="spacingAndGlyphs">3390.00</text>
<text x="1043.60" y="464.90" font-size="8.8" fill="#1c202b" stroke="#1c202b" stroke-width="0.1" textLength="34.60" lengthAdjust="spacingAndGlyphs">3320.00</text>
<text x="1043.60" y="487.01" font-size="8.8" fill="#1c202b" stroke="#1c202b" stroke-width="0.1" textLength="34.60" lengthAdjust="spacingAndGlyphs">3250.00</text>
<text x="1043.60" y="30.70" font-size="8.8" fill="#1c202b" stroke="#1c202b" stroke-width="0.1" textLength="13.70" lengthAdjust="spacingAndGlyphs">INR</text>
<rect x="1037.3" y="35.8" width="45.4" height="10.5" rx="2.5" fill="#ffffff" stroke="#4DB3A6" stroke-width="1.1"/>
<text x="1043.60" y="43.80" font-size="8.8" fill="#3CAA9A" stroke="#3CAA9A" stroke-width="0.1" textLength="34.60" lengthAdjust="spacingAndGlyphs">4981.80</text>
<rect x="1036" y="165.2" width="50" height="20.7" rx="1" fill="#F23645"/>
<text x="1043.60" y="174.30" font-size="8.8" fill="#ffffff" textLength="34.90" lengthAdjust="spacingAndGlyphs">4395.00</text>
<text x="1043.60" y="183.50" font-size="8.8" fill="#ffffff" textLength="37.50" lengthAdjust="spacingAndGlyphs">01:21:16</text>
<rect x="997.8" y="482.80" width="36.6" height="9.70" rx="1" fill="#ffffff" stroke="#3CAA9A" stroke-width="1.2"/>
<rect x="1037.1" y="482.80" width="46.1" height="9.70" rx="1" fill="#ffffff" stroke="#3CAA9A" stroke-width="1.2"/>
<text x="1000.90" y="490.70" font-size="8.3" fill="#3CAA9A" stroke="#3CAA9A" stroke-width="0.1" textLength="30.00" lengthAdjust="spacingAndGlyphs">Volume</text>
<text x="1044.00" y="490.70" font-size="8.3" fill="#3CAA9A" stroke="#3CAA9A" stroke-width="0.1" textLength="34.90" lengthAdjust="spacingAndGlyphs">403.77K</text>
<rect x="997.8" y="494.40" width="36.6" height="9.70" rx="1" fill="#ffffff" stroke="#3CAA9A" stroke-width="1.2"/>
<rect x="1037.1" y="494.40" width="46.1" height="9.70" rx="1" fill="#ffffff" stroke="#3CAA9A" stroke-width="1.2"/>
<text x="1000.90" y="501.40" font-size="8.3" fill="#3CAA9A" stroke="#3CAA9A" stroke-width="0.1" textLength="30.00" lengthAdjust="spacingAndGlyphs">Volume</text>
<text x="1044.00" y="501.40" font-size="8.3" fill="#3CAA9A" stroke="#3CAA9A" stroke-width="0.1" textLength="34.90" lengthAdjust="spacingAndGlyphs">403.77K</text>
<clipPath id="vl3"><rect x="990" y="504" width="100" height="3.3"/></clipPath>
<g clip-path="url(#vl3)">
<rect x="997.8" y="505.70" width="36.6" height="9.70" rx="1" fill="#ffffff" stroke="#3CAA9A" stroke-width="1.2"/>
<rect x="1037.1" y="505.70" width="46.1" height="9.70" rx="1" fill="#ffffff" stroke="#3CAA9A" stroke-width="1.2"/>
</g>
<text x="22.30" y="520.40" font-size="8.6" fill="#1c202b" font-weight="bold" textLength="22.20" lengthAdjust="spacingAndGlyphs">2021</text>
<text x="104.98" y="520.40" font-size="8.6" fill="#1c202b" stroke="#1c202b" stroke-width="0.1" text-anchor="middle">18</text>
<text x="163.10" y="520.40" font-size="8.6" fill="#1c202b" stroke="#1c202b" stroke-width="0.1" text-anchor="middle">Feb</text>
<text x="227.68" y="520.40" font-size="8.6" fill="#1c202b" stroke="#1c202b" stroke-width="0.1" text-anchor="middle">15</text>
<text x="292.25" y="520.40" font-size="8.6" fill="#1c202b" stroke="#1c202b" stroke-width="0.1" text-anchor="middle">Mar</text>
<text x="350.37" y="520.40" font-size="8.6" fill="#1c202b" stroke="#1c202b" stroke-width="0.1" text-anchor="middle">15</text>
<text x="427.86" y="520.40" font-size="8.6" fill="#1c202b" stroke="#1c202b" stroke-width="0.1" text-anchor="middle">Apr</text>
<text x="492.44" y="520.40" font-size="8.6" fill="#1c202b" stroke="#1c202b" stroke-width="0.1" text-anchor="middle">19</text>
<text x="550.56" y="520.40" font-size="8.6" fill="#1c202b" stroke="#1c202b" stroke-width="0.1" text-anchor="middle">May</text>
<text x="608.68" y="520.40" font-size="8.6" fill="#1c202b" stroke="#1c202b" stroke-width="0.1" text-anchor="middle">17</text>
<text x="679.71" y="520.40" font-size="8.6" fill="#1c202b" stroke="#1c202b" stroke-width="0.1" text-anchor="middle">Jun</text>
<text x="737.83" y="520.40" font-size="8.6" fill="#1c202b" stroke="#1c202b" stroke-width="0.1" text-anchor="middle">14</text>
<text x="821.78" y="520.40" font-size="8.6" fill="#1c202b" stroke="#1c202b" stroke-width="0.1" text-anchor="middle">Jul</text>
<text x="899.27" y="520.40" font-size="8.6" fill="#1c202b" stroke="#1c202b" stroke-width="0.1" text-anchor="middle">19</text>
<text x="957.38" y="520.40" font-size="8.6" fill="#1c202b" stroke="#1c202b" stroke-width="0.1" text-anchor="middle">Aug</text>
<text x="1021.96" y="520.40" font-size="8.6" fill="#1c202b" stroke="#1c202b" stroke-width="0.1" text-anchor="middle">16</text>
<g fill="#131722"><path d="M7 534.8h6.2v6.1h-2.8v-3.6H7z"/><circle cx="14.9" cy="536.2" r="1.35"/><path d="M17.6 534.8h3.5l-3.6 6.1h-3.5z"/></g>
<text x="24.70" y="541.60" font-size="8.6" fill="#2a2e39" stroke="#2a2e39" stroke-width="0.1" textLength="53.10" lengthAdjust="spacingAndGlyphs">TradingView</text>
</svg>
</body></html>
